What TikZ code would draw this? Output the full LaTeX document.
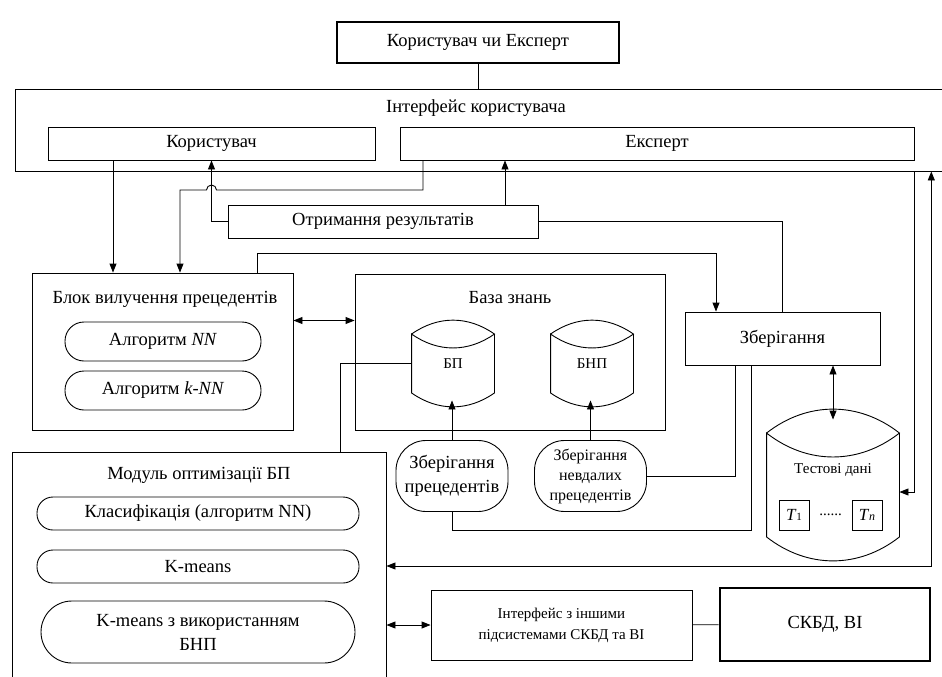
\documentclass[tikz,border=0pt]{standalone}
\usepackage{fontspec}
\setmainfont{Liberation Serif}
\usetikzlibrary{positioning,arrows.meta}

% outline of a database drum round a node: name, rise of the arcs, bend angle
\newcommand{\drum}[3]{%
  \draw ([yshift=-#2]#1.north west) to[bend left=#3] ([yshift=-#2]#1.north east)
    to[bend left=#3] ([yshift=-#2]#1.north west)
    -- ([yshift=#2]#1.south west) to[bend right=#3] ([yshift=#2]#1.south east)
    -- ([yshift=-#2]#1.north east);}

\begin{document}
\begin{tikzpicture}[x=1pt,y=-1pt,
  line width=0.9pt,
  box/.style={draw, align=center, inner sep=2pt, font=\fontsize{18.5}{24}\selectfont},
  thickbox/.style={box, line width=2.6pt},
  pill/.style={box, rounded corners=16pt},
  title/.style={font=\fontsize{18.5}{24}\selectfont},
  small/.style={font=\fontsize{15}{21}\selectfont},
  db/.style={inner sep=0pt, font=\fontsize{15}{18}\selectfont},
  arrow/.style={-{Triangle[length=9pt,width=7pt]}},
  dblarrow/.style={{Triangle[length=9pt,width=7pt]}-{Triangle[length=9pt,width=7pt]}}
]
\useasboundingbox (0,0) rectangle (942,677);

% user interface
\node[thickbox, minimum width=282pt, minimum height=41pt] (actor) at (478,42.5) {Користувач чи Експерт};
\node[box, minimum width=945pt, minimum height=82pt] (ui) at (487.5,130) {};
\node[title] (uititle) at (476,108) {Інтерфейс користувача};
\node[box, minimum width=327pt, minimum height=33pt] (user) at (211.5,143.5) {Користувач};
\node[box, minimum width=514pt, minimum height=33pt] (expert) at (657,143.5) {Експерт};
\node[box, minimum width=310pt, minimum height=33pt] (results) at (383,221.5) {Отримання результатів};

% retrieval block
\node[box, minimum width=261pt, minimum height=157pt] (retr) at (162.5,351.5) {};
\node[title] (retrtitle) at (165,299) {Блок вилучення прецедентів};
\node[pill, minimum width=196pt, minimum height=39pt, rounded corners=19pt] (nn) at (163,341.5) {Алгоритм \textit{NN}};
\node[pill, minimum width=196pt, minimum height=39pt, rounded corners=19pt] (knn) at (163,390.5) {Алгоритм \textit{k-NN}};

% knowledge base
\node[box, minimum width=310pt, minimum height=156pt] (kb) at (510,352) {};
\node[title] (kbtitle) at (510,298) {База знань};
\node[db, minimum width=82pt, minimum height=73pt] (bp) at (453,363.5) {БП};
\node[db, minimum width=82pt, minimum height=73pt] (bnp) at (592,363.5) {БНП};
\drum{bp}{7.5pt}{35}
\drum{bnp}{7.5pt}{35}
\node[pill, minimum width=112pt, minimum height=71pt, rounded corners=30pt] (storeprec) at (452,476) {Зберігання\\прецедентів};
\node[pill, font=\fontsize{16}{20}\selectfont, minimum width=112pt, minimum height=71pt, rounded corners=30pt] (storefail) at (590.5,476) {Зберігання\\невдалих\\прецедентів};

% storage and test data
\node[box, minimum width=195pt, minimum height=53pt] (storage) at (782.5,338.5) {Зберігання};
\node[db, minimum width=132pt, minimum height=130pt] (test) at (833,485) {};
\drum{test}{13.5pt}{38}
\node[small] (testtitle) at (833,470) {Тестові дані};
\node[box, font=\fontsize{17}{17}\selectfont, minimum width=30pt, minimum height=30pt, inner sep=0pt] (t1) at (794,515) {\textit{T}{\fontsize{11}{11}\selectfont 1}};
\node[box, font=\fontsize{17}{17}\selectfont, minimum width=30pt, minimum height=30pt, inner sep=0pt] (tn) at (867,515) {\textit{T}{\fontsize{12}{12}\selectfont\textit{n}}};
\node[small] (dots) at (830.5,515) {......};

% optimisation module
\node[box, minimum width=374pt, minimum height=228pt] (opt) at (199,566) {};
\node[title] (opttitle) at (199,475) {Модуль оптимізації БП};
\node[pill, minimum width=322pt, minimum height=33pt] (cls) at (198,513.5) {Класифікація (алгоритм NN)};
\node[pill, minimum width=322pt, minimum height=33pt] (km) at (198,566.5) {K-means};
\node[pill, minimum width=314pt, minimum height=62pt, rounded corners=31pt] (kmb) at (198,632) {K-means з використанням\\БНП};

% other subsystems
\node[box, small, minimum width=261pt, minimum height=70pt] (iface) at (561.5,625) {Інтерфейс з іншими\\підсистемами СКБД та ВІ};
\node[thickbox, minimum width=210pt, minimum height=73pt] (dbms) at (825,624.5) {СКБД, ВІ};

% connectors
\draw (actor) -- (actor |- ui.north);
\draw[arrow] ([xshift=-98.5pt]user.south) -- ([xshift=-98.5pt]user.south |- retr.north);
\draw[arrow] ([xshift=-234pt]expert.south) |- ([xshift=5pt]user.south |- 0,190)
  arc[start angle=0, end angle=180, radius=5pt] -| ([xshift=17.5pt]retr.north);
\draw[arrow] (results.west) -| (user.south);
\draw[arrow] ([xshift=122pt]results.north) -- ([xshift=122pt]results.north |- expert.south);
\draw (results.east) -| (storage.north);
\draw[arrow] ([xshift=94.5pt]retr.north) -- ++(0,-19) -| ([xshift=-66.5pt]storage.north);
\draw[dblarrow] ([yshift=31pt]retr.east) -- ([yshift=31pt]retr.east -| kb.west);
\draw (bp.west) -| ([xshift=141pt]opt.north);
\draw[arrow] (storeprec.north) -- (storeprec.north |- bp.south);
\draw[arrow] (storefail.north) -- (storefail.north |- bnp.south);
\draw (storefail.east) -| ([xshift=-47pt]storage.south);
\draw (storeprec.south) -- ++(0,18) -| ([xshift=-31.5pt]storage.south);
\draw[dblarrow] (test.north |- storage.south) -- (test.north);
\draw[arrow] (expert.east |- ui.south) |- ([yshift=-7pt]test.east);
\draw[dblarrow] (dbms.east |- ui.south) |- (opt.east);
\draw[dblarrow] (iface.west -| opt.east) -- (iface.west);
\draw (iface) -- (dbms);
\end{tikzpicture}
\end{document}
